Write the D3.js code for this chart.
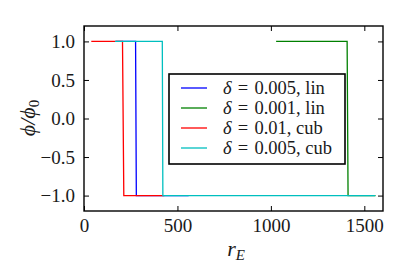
<!DOCTYPE html>
<html lang="en">
<head>
    <meta charset="UTF-8">
    <title>phi vs r_E</title>
    <script src="https://cdnjs.cloudflare.com/ajax/libs/d3/7.8.5/d3.min.js"></script>
    <style>
        body { margin: 0; background: #fff; }
        svg { display: block; }
        svg text { font-family: 'Liberation Serif', 'Times New Roman', Times, 'DejaVu Serif', serif; fill: #1a1a1a; }
    </style>
</head>
<body>
    <div id="wrapper"></div>
    <script>
        // data
        const deltaValues = ['0.005', '0.001', '0.01', '0.005']
        const schemes = ['lin', 'lin', 'cub', 'cub']
        const seriesColors = ['#0000ff', '#008000', '#ff0000', '#00bfbf']
        const blueR = [170, 276, 280, 560]
        const bluePhi = [1, 1, -1, -1]
        const greenR = [1028, 1408, 1413, 1560]
        const greenPhi = [1, 1, -1, -1]
        const redR = [39, 206, 213, 430]
        const redPhi = [1, 1, -1, -1]
        const cyanR = [166, 419, 422, 1558]
        const cyanPhi = [1, 1, -1, -1]
        const xTicks = [0, 500, 1000, 1500]
        const yTicks = [-1.0, -0.5, 0.0, 0.5, 1.0]

        const series = [
            { r: blueR, phi: bluePhi },
            { r: greenR, phi: greenPhi },
            { r: redR, phi: redPhi },
            { r: cyanR, phi: cyanPhi },
        ]

        let dimensions = {
            width: 399,
            height: 268,
            margin: { top: 26, right: 16, bottom: 57, left: 84 }
        }
        dimensions.boundedWidth = dimensions.width - dimensions.margin.left - dimensions.margin.right
        dimensions.boundedHeight = dimensions.height - dimensions.margin.top - dimensions.margin.bottom

        const wrapper = d3.select('#wrapper')
            .append('svg')
                .attr('width', dimensions.width)
                .attr('height', dimensions.height)

        const bounds = wrapper.append('g')
            .attr('transform', `translate(${dimensions.margin.left},${dimensions.margin.top})`)

        const xScale = d3.scaleLinear()
            .domain([0, 1600])
            .range([0, dimensions.boundedWidth])
        const yScale = d3.scaleLinear()
            .domain([-1.2, 1.2])
            .range([dimensions.boundedHeight, 0])

        // lines
        const lineGen = d3.line()
            .x(d => xScale(d[0]))
            .y(d => yScale(d[1]))

        series.forEach((s, i) => {
            bounds.append('path')
                .datum(s.r.map((r, j) => [r, s.phi[j]]))
                .attr('d', lineGen)
                .attr('fill', 'none')
                .attr('stroke', seriesColors[i])
                .attr('stroke-width', 1.3)
        })

        // axes, ticks inward on all sides
        const tickLen = 5
        const styleAxis = g => {
            g.select('.domain').remove()
            g.selectAll('line').attr('stroke', '#000').attr('stroke-width', 1)
            g.selectAll('text')
                .attr('fill', null)
                .style('font-size', '19px')
        }
        bounds.append('g')
            .attr('transform', `translate(0,${dimensions.boundedHeight})`)
            .call(d3.axisBottom(xScale).tickValues(xTicks).tickSizeInner(-tickLen).tickPadding(8).tickFormat(d3.format('d')))
            .call(styleAxis)
        bounds.append('g')
            .call(d3.axisTop(xScale).tickValues(xTicks).tickSizeInner(-tickLen).tickFormat(''))
            .call(styleAxis)
        bounds.append('g')
            .call(d3.axisLeft(yScale).tickValues(yTicks).tickSizeInner(-tickLen).tickPadding(9).tickFormat(d => d3.format('.1f')(d).replace('-', '−')))
            .call(styleAxis)
        bounds.append('g')
            .attr('transform', `translate(${dimensions.boundedWidth},0)`)
            .call(d3.axisRight(yScale).tickValues(yTicks).tickSizeInner(-tickLen).tickFormat(''))
            .call(styleAxis)
        // d3 axes set font-family on the group; clear it so the css rule wins
        bounds.selectAll('g').attr('font-family', null)

        // frame
        bounds.append('rect')
            .attr('width', dimensions.boundedWidth)
            .attr('height', dimensions.boundedHeight)
            .attr('fill', 'none')
            .attr('stroke', '#000')
            .attr('stroke-width', 1.4)

        // axis labels
        const xLabel = wrapper.append('text')
            .attr('x', 236)
            .attr('y', 256)
            .attr('text-anchor', 'middle')
            .style('font-size', '22px')
            .style('font-style', 'italic')
        xLabel.append('tspan').text('r')
        xLabel.append('tspan').attr('dy', 4).style('font-size', '15px').text('E')

        const yLabel = wrapper.append('text')
            .attr('transform', 'translate(35,118) rotate(-90)')
            .attr('text-anchor', 'middle')
            .style('font-size', '22px')
            .style('font-style', 'italic')
        yLabel.append('tspan').text('ϕ/ϕ')
        yLabel.append('tspan').attr('dy', 4).style('font-size', '15px').style('font-style', 'normal').text('0')

        // legend
        const legend = wrapper.append('g')
            .attr('transform', 'translate(169,74)')
        legend.append('rect')
            .attr('width', 176)
            .attr('height', 90)
            .attr('fill', '#fff')
            .attr('stroke', '#000')
            .attr('stroke-width', 1.6)
        const rowY = d3.scalePoint().domain(d3.range(deltaValues.length)).range([14, 74])
        deltaValues.forEach((dv, i) => {
            legend.append('line')
                .attr('x1', 12).attr('x2', 38)
                .attr('y1', rowY(i)).attr('y2', rowY(i))
                .attr('stroke', seriesColors[i])
                .attr('stroke-width', 1.3)
            const t = legend.append('text')
                .attr('x', 54)
                .attr('y', rowY(i) + 6)
                .style('font-size', '18.5px')
            t.append('tspan').style('font-style', 'italic').text('δ')
            // math-style spacing around the equals sign
            t.append('tspan').text(`\u2004=\u2004${dv}, ${schemes[i]}`)
        })
    </script>
</body>
</html>
